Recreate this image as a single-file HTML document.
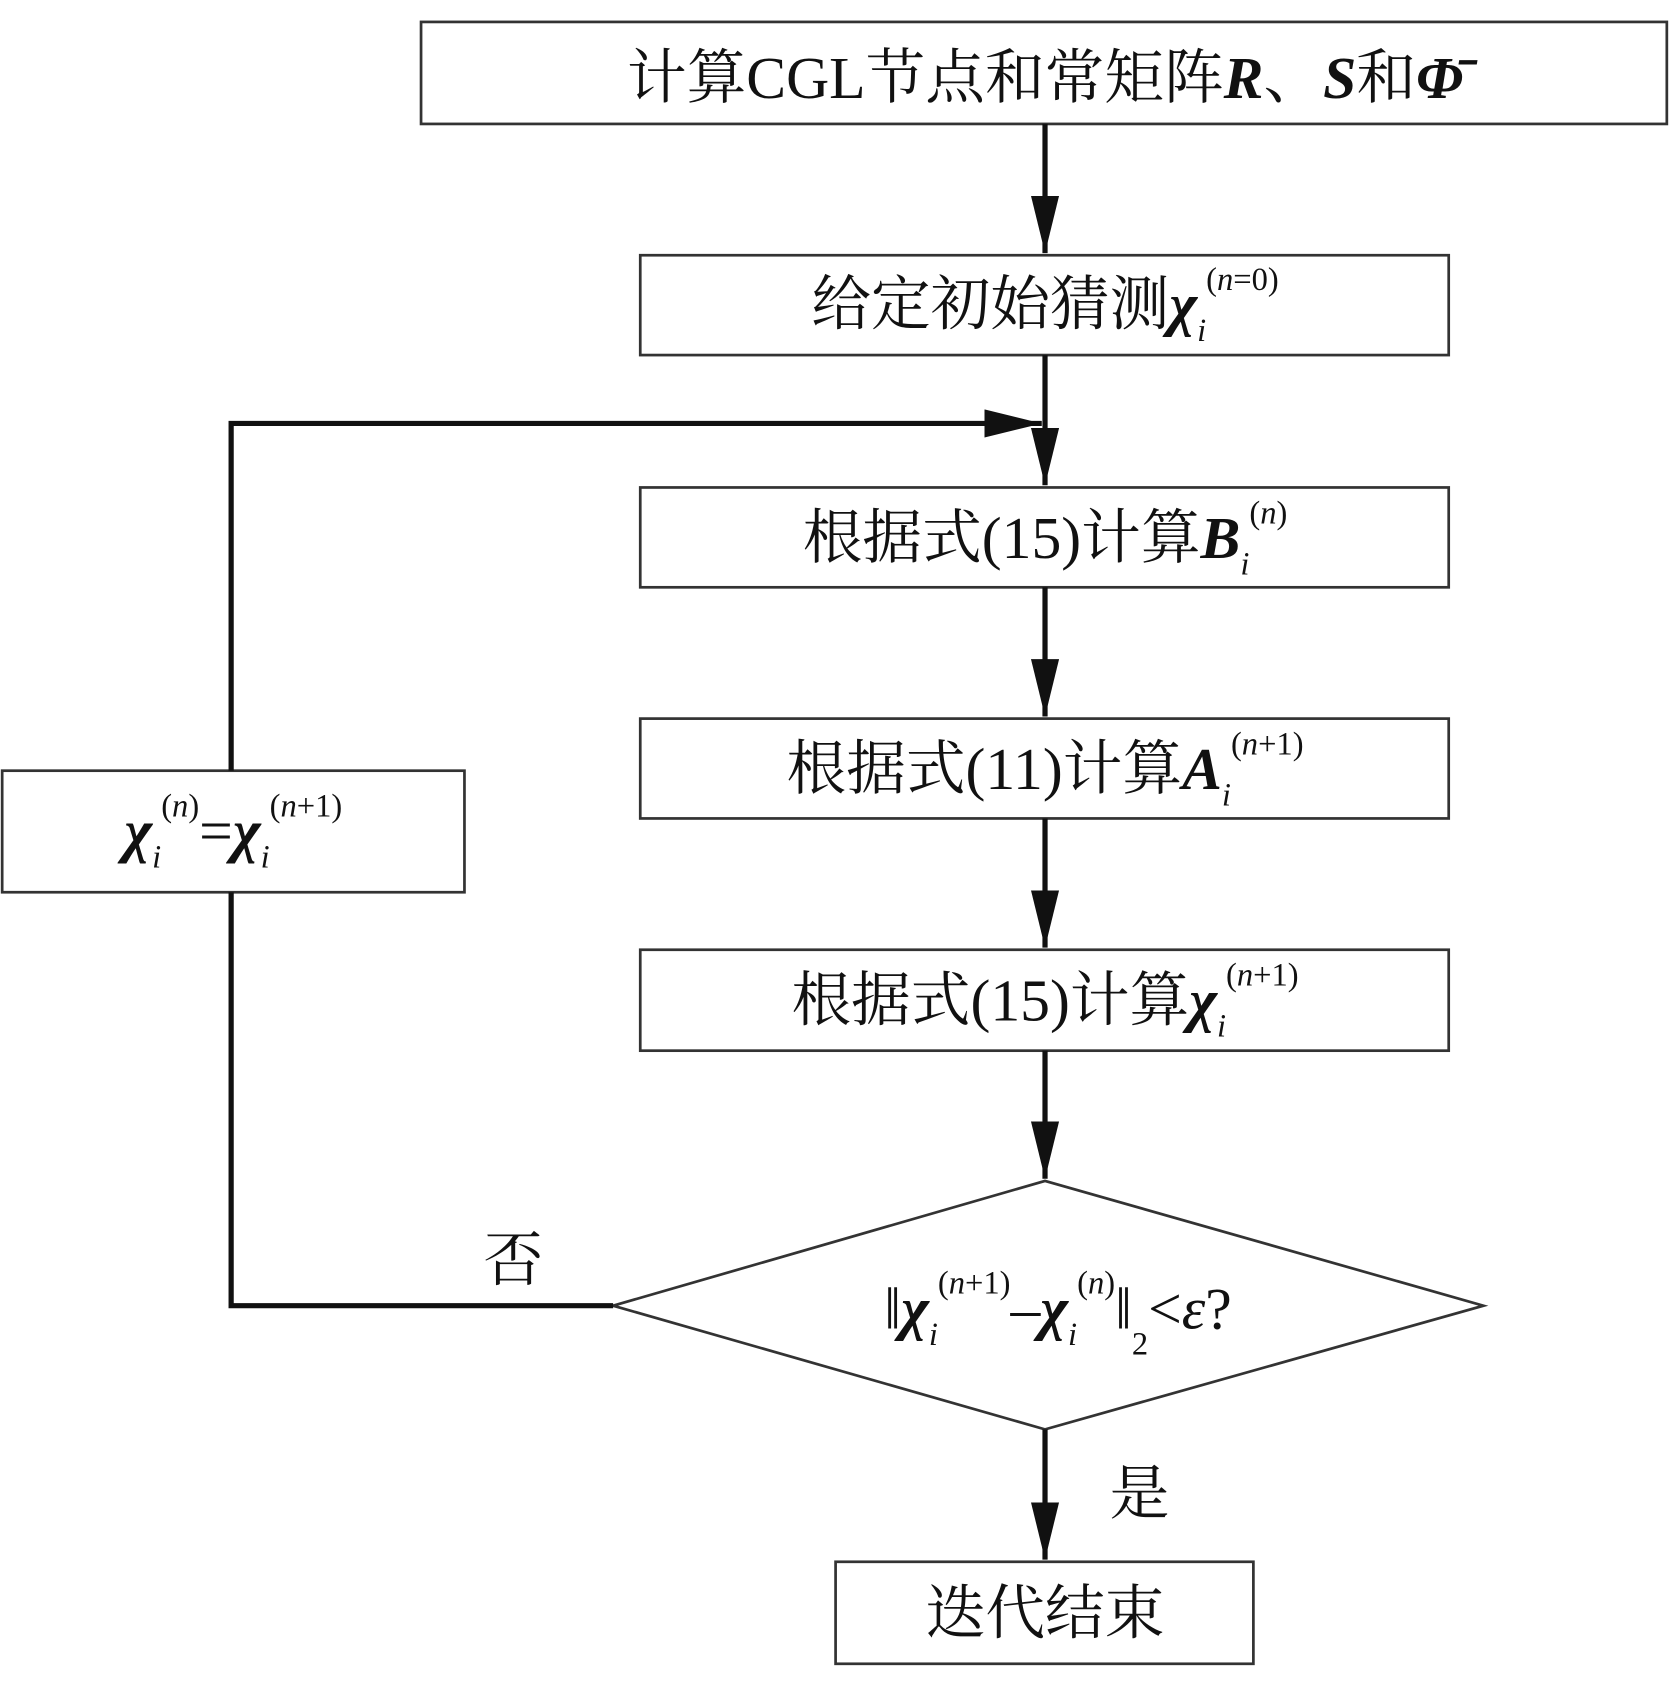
<!DOCTYPE html>
<html><head><meta charset="utf-8"><style>
html,body{margin:0;padding:0;background:#fff;}
svg{display:block;}
text{font-family:"Liberation Serif","Noto Serif CJK SC","Noto Sans CJK SC",serif;fill:#111;}
</style></head><body>
<svg width="1669" height="1702" viewBox="0 0 1538 1568" xmlns="http://www.w3.org/2000/svg">
<defs>
<marker id="a" viewBox="0 0 10 10" refX="10" refY="5" markerWidth="11" markerHeight="5.4" preserveAspectRatio="none" markerUnits="strokeWidth" orient="auto">
<path d="M0,0 L10,5 L0,10 z" fill="#111"/></marker>
</defs>
<g fill="#fff" stroke="#333" stroke-width="2.5">
<rect x="388" y="20" width="1148" height="94"/>
<rect x="590" y="235" width="745" height="92"/>
<rect x="590" y="449" width="745" height="92"/>
<rect x="590" y="662" width="745" height="92"/>
<rect x="590" y="875" width="745" height="93"/>
<rect x="2" y="710" width="426" height="112"/>
<rect x="770" y="1439" width="385" height="94"/>
<polygon points="565,1203 963,1088 1367,1203 963,1317"/>
</g>
<g stroke="#111" stroke-width="4.8" fill="none">
<line x1="963" y1="114" x2="963" y2="233" marker-end="url(#a)"/>
<line x1="963" y1="327" x2="963" y2="447" marker-end="url(#a)"/>
<line x1="963" y1="541" x2="963" y2="660" marker-end="url(#a)"/>
<line x1="963" y1="754" x2="963" y2="873" marker-end="url(#a)"/>
<line x1="963" y1="968" x2="963" y2="1086" marker-end="url(#a)"/>
<line x1="963" y1="1317" x2="963" y2="1437" marker-end="url(#a)"/>
<polyline points="565,1203 213,1203 213,822"/>
<polyline points="213,710 213,390 960,390" marker-end="url(#a)"/>
</g>
<g font-size="55" text-anchor="middle">
<text x="963" y="90">计算CGL节点和常矩阵<tspan font-weight="bold" font-style="italic">R</tspan>、<tspan font-weight="bold" font-style="italic">S</tspan>和<tspan font-weight="bold" font-style="italic">Φ̄</tspan></text>
<text x="963" y="299">给定初始猜测<tspan font-weight="bold" font-style="italic">χ</tspan><tspan font-size="30" font-style="italic" dy="15">i</tspan><tspan font-size="30" dy="-47">(<tspan font-style="italic">n</tspan>=0)</tspan></text>
<text x="963" y="514">根据式(15)计算<tspan font-weight="bold" font-style="italic">B</tspan><tspan font-size="30" font-style="italic" dy="15">i</tspan><tspan font-size="30" dy="-47">(<tspan font-style="italic">n</tspan>)</tspan></text>
<text x="963" y="727">根据式(11)计算<tspan font-weight="bold" font-style="italic">A</tspan><tspan font-size="30" font-style="italic" dy="15">i</tspan><tspan font-size="30" dy="-47">(<tspan font-style="italic">n</tspan>+1)</tspan></text>
<text x="963" y="940">根据式(15)计算<tspan font-weight="bold" font-style="italic">χ</tspan><tspan font-size="30" font-style="italic" dy="15">i</tspan><tspan font-size="30" dy="-47">(<tspan font-style="italic">n</tspan>+1)</tspan></text>
<text x="215" y="784"><tspan font-weight="bold" font-style="italic">χ</tspan><tspan font-size="30" font-style="italic" dy="15">i</tspan><tspan font-size="30" dy="-47">(<tspan font-style="italic">n</tspan>)</tspan><tspan dy="32">=</tspan><tspan font-weight="bold" font-style="italic">χ</tspan><tspan font-size="30" font-style="italic" dy="15">i</tspan><tspan font-size="30" dy="-47">(<tspan font-style="italic">n</tspan>+1)</tspan></text>
<text x="975" y="1224">‖<tspan font-weight="bold" font-style="italic">χ</tspan><tspan font-size="30" font-style="italic" dy="15">i</tspan><tspan font-size="30" dy="-47">(<tspan font-style="italic">n</tspan>+1)</tspan><tspan dy="32">–</tspan><tspan font-weight="bold" font-style="italic">χ</tspan><tspan font-size="30" font-style="italic" dy="15">i</tspan><tspan font-size="30" dy="-47">(<tspan font-style="italic">n</tspan>)</tspan><tspan dy="32">‖</tspan><tspan font-size="30" dy="24">2</tspan><tspan dy="-24">&lt;</tspan><tspan font-style="italic">ε</tspan>?</text>
<text x="963" y="1505">迭代结束</text>
<text x="473" y="1180">否</text>
<text x="1050" y="1395">是</text>
</g>
</svg>
</body></html>
